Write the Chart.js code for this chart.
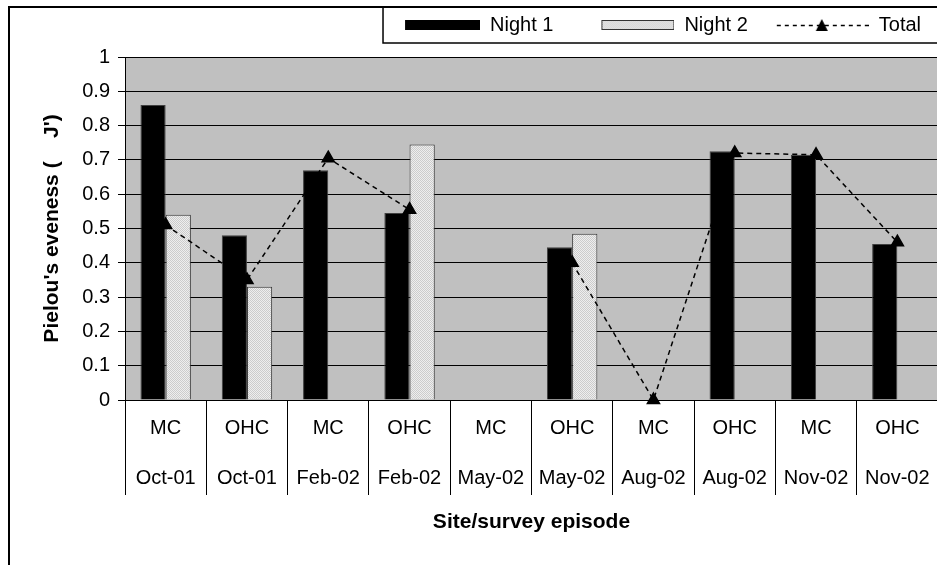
<!DOCTYPE html>
<html>
<head>
<meta charset="utf-8">
<script src="https://cdn.jsdelivr.net/npm/chart.js@4.4.0/dist/chart.umd.min.js"></script>
<style>
  html, body { margin: 0; padding: 0; background: #fff; overflow: hidden; }
  #wrap { width: 950px; height: 565px; position: relative; }
</style>
</head>
<body>
<div id="wrap"><canvas id="myChart"></canvas></div>
<script>
// site and survey episode for each category
const sites = ['MC', 'OHC', 'MC', 'OHC', 'MC', 'OHC', 'MC', 'OHC', 'MC', 'OHC'];
const episodes = ['Oct-01', 'Oct-01', 'Feb-02', 'Feb-02', 'May-02', 'May-02', 'Aug-02', 'Aug-02', 'Nov-02', 'Nov-02'];

// Pielou's evenness values
const night1 = [0.86, 0.48, 0.67, 0.545, null, 0.445, null, 0.725, 0.715, 0.455];
const night2 = [0.54, 0.33, null, 0.745, null, 0.485, null, null, null, null];
const total = [0.51, 0.35, 0.705, 0.555, null, 0.40, 0, 0.72, 0.715, 0.46];

const yTicks = [0, 0.1, 0.2, 0.3, 0.4, 0.5, 0.6, 0.7, 0.8, 0.9, 1];

const FONT = "'Liberation Sans', Arial, sans-serif";

// dotted light grey fill for night 2
function dotPattern() {
  var c = document.createElement('canvas');
  c.width = 2; c.height = 2;
  var x = c.getContext('2d');
  x.fillStyle = '#eeeeee'; x.fillRect(0, 0, 2, 2);
  x.fillStyle = '#cccccc'; x.fillRect(0, 0, 1, 1); x.fillRect(1, 1, 1, 1);
  return x.createPattern(c, 'repeat');
}
const night2Fill = dotPattern();

// legend swatches (blank space on the left acts as gap between items)
const SW_W = 104, SW_H = 14;
function swatch(kind) {
  var c = document.createElement('canvas');
  c.width = SW_W; c.height = SW_H;
  var x = c.getContext('2d');
  if (kind == 'bar1') {
    x.fillStyle = '#000';
    x.fillRect(29, 2, 75, 10);
  } else if (kind == 'bar2') {
    x.fillStyle = night2Fill;
    x.fillRect(31, 2, 73, 10);
    x.strokeStyle = '#333'; x.lineWidth = 1;
    x.strokeRect(31.5, 2.5, 72, 9);
  } else {
    x.strokeStyle = '#000'; x.lineWidth = 1.5;
    x.setLineDash([4, 4]);
    x.beginPath(); x.moveTo(12, 7.5); x.lineTo(104, 7.5); x.stroke();
    x.fillStyle = '#000';
    x.beginPath(); x.moveTo(57, 1); x.lineTo(63, 13); x.lineTo(51, 13); x.closePath(); x.fill();
  }
  return c;
}
const legendImgs = [swatch('bar1'), swatch('bar2'), swatch('line')];

const frame = {
  id: 'frame',
  beforeInit(chart) {
    // leave a gap under the legend box
    const fitValue = chart.legend.fit;
    chart.legend.fit = function fit() {
      fitValue.bind(chart.legend)();
      this.height += 12;
    };
  },
  beforeDraw(chart) {
    const ctx = chart.ctx, a = chart.chartArea;
    ctx.save();
    ctx.fillStyle = '#fff';
    ctx.fillRect(0, 0, chart.width, chart.height);
    ctx.fillStyle = '#c0c0c0';
    ctx.fillRect(a.left, a.top, a.right - a.left, a.bottom - a.top);
    ctx.restore();
  },
  afterDraw(chart) {
    const ctx = chart.ctx;
    ctx.save();
    ctx.strokeStyle = '#000';
    ctx.lineWidth = 2;
    ctx.strokeRect(9, 7, 1000, 600);
    var hb = chart.legend.legendHitBoxes[0];
    ctx.lineWidth = 1.5;
    ctx.strokeRect(hb.left + 7, 7, 1000, 36);
    ctx.restore();
  }
};

const data = {
  labels: sites.map((s, i) => [s, episodes[i]]),
  datasets: [{
    label: 'Night 1',
    data: night1,
    backgroundColor: '#000',
    borderColor: '#404040',
    borderWidth: 1,
    categoryPercentage: 0.62,
    barPercentage: 1,
    order: 1
  }, {
    label: 'Night 2',
    data: night2,
    backgroundColor: night2Fill,
    borderColor: '#333',
    borderWidth: 1,
    categoryPercentage: 0.62,
    barPercentage: 1,
    order: 1
  }, {
    type: 'line',
    label: 'Total',
    data: total,
    borderColor: '#000',
    borderWidth: 1.5,
    borderDash: [5, 4],
    tension: 0,
    fill: false,
    spanGaps: false,
    pointStyle: 'triangle',
    pointRadius: 7,
    pointBackgroundColor: '#000',
    pointBorderColor: '#000',
    clip: false,
    order: -1
  }]
};

const config = {
  type: 'bar',
  data: data,
  options: {
    responsive: true,
    maintainAspectRatio: false,
    animation: false,
    devicePixelRatio: 1,
    layout: { padding: { top: -2, right: 12, left: 0, bottom: 0 } },
    plugins: {
      tooltip: { enabled: false },
      legend: {
        position: 'top',
        align: 'end',
        labels: {
          usePointStyle: true,
          pointStyleWidth: SW_W,
          padding: 17,
          color: '#000',
          font: { family: FONT, size: 20 },
          generateLabels: function (chart) {
            return chart.data.datasets.map((ds, i) => ({
              text: ds.label,
              pointStyle: legendImgs[i],
              fillStyle: 'transparent',
              strokeStyle: 'transparent',
              lineWidth: 0,
              fontColor: '#000',
              hidden: false,
              datasetIndex: i
            }));
          }
        }
      }
    },
    scales: {
      x: {
        offset: true,
        grid: { color: '#000', lineWidth: 1, drawOnChartArea: false, drawTicks: true, tickLength: 95, offset: true },
        border: { color: '#000', width: 1 },
        ticks: {
          color: '#000',
          font: { family: FONT, size: 20, lineHeight: 2.475 },
          padding: -91,
          maxRotation: 0,
          autoSkip: false
        },
        title: {
          display: true,
          text: 'Site/survey episode',
          color: '#000',
          font: { family: FONT, size: 21, weight: 'bold' },
          padding: { top: 0, bottom: 30 }
        },
        afterFit: function (scale) { scale.height = 165; }
      },
      y: {
        min: 0,
        max: 1,
        afterBuildTicks: function (scale) { scale.ticks = yTicks.map(v => ({ value: v })); },
        grid: { color: '#000', lineWidth: 1, tickLength: 7 },
        border: { color: '#000', width: 1 },
        ticks: {
          color: '#000',
          font: { family: FONT, size: 20 },
          padding: 8,
          callback: v => String(+v.toFixed(1))
        },
        title: {
          display: true,
          text: "Pielou's eveness (    J')",
          color: '#000',
          font: { family: FONT, size: 21, weight: 'bold' },
          padding: { top: 40, bottom: 0 }
        },
        afterFit: function (scale) { scale.width = 125; }
      }
    }
  },
  plugins: [frame]
};

const myChart = new Chart(document.getElementById('myChart'), config);
</script>
</body>
</html>
